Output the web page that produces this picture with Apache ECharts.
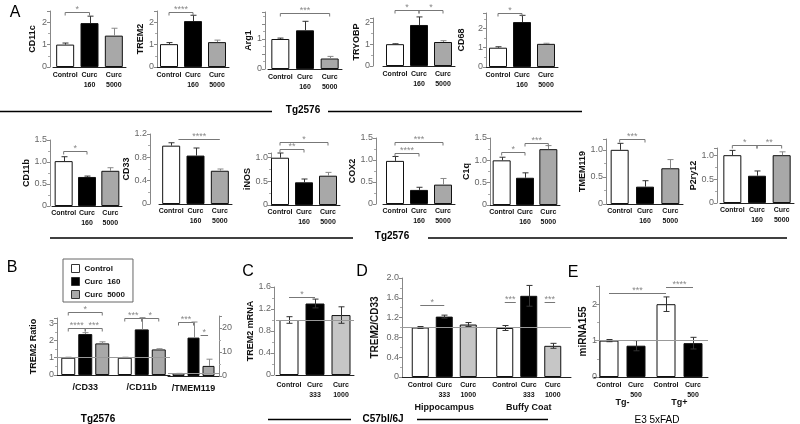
<!DOCTYPE html>
<html>
<head>
<meta charset="utf-8">
<script src="https://cdn.jsdelivr.net/npm/echarts@6/dist/echarts.min.js"></script>
<style>
html, body { margin: 0; background: #fff; }
#chart { width: 800px; height: 424px; }
</style>
</head>
<body>
<div id="chart"></div>
<script>
// ---- categories ----
var groups160 = ['Control', 'Curc\n160', 'Curc\n5000'];
var groups333 = ['Control', 'Curc\n333', 'Curc\n1000'];
var groups500 = ['Control', 'Curc\n500'];
var legendNames = ['Control', 'Curc  160', 'Curc  5000'];
var ratioCats = ['/CD33', '/CD11b'];
var ratioCats2 = ['/TMEM119'];
var tissueCats = ['Hippocampus', 'Buffy Coat'];
var tgCats = ['Tg-', 'Tg+'];

// ---- A, first row (mean, sem, significance [from, to, y, stars]) ----
var cd11c = [1.00, 1.96, 1.40], cd11cErr = [0.07, 0.31, 0.33], cd11cSig = [[0, 1, 2.45, '*']];
var trem2 = [1.02, 2.05, 1.11], trem2Err = [0.07, 0.26, 0.09], trem2Sig = [[0, 1, 2.45, '****']];
var arg1 = [1.00, 1.29, 0.35], arg1Err = [0.03, 0.30, 0.07], arg1Sig = [[0, 2, 1.88, '***']];
var tryobp = [1.00, 1.88, 1.10], tryobpErr = [0.02, 0.37, 0.06], tryobpSig = [[0, 1, 2.55, '*'], [1, 2, 2.55, '*']];
var cd68 = [1.00, 2.33, 1.20], cd68Err = [0.05, 0.35, 0.03], cd68Sig = [[0, 1, 2.8, '*']];

// ---- A, second row ----
var cd11b = [1.02, 0.66, 0.80], cd11bErr = [0.10, 0.02, 0.07], cd11bSig = [[0, 1, 1.24, '*']];
var cd33 = [1.00, 0.83, 0.57], cd33Err = [0.05, 0.13, 0.03], cd33Sig = [[0.3, 2, 1.11, '****', 'line']];
var inos = [1.00, 0.48, 0.62], inosErr = [0.10, 0.07, 0.07], inosSig = [[0, 2, 1.33, '*'], [0, 1, 1.19, '**']];
var cox2 = [0.98, 0.32, 0.44], cox2Err = [0.10, 0.06, 0.14], cox2Sig = [[0, 2, 1.42, '***'], [0, 1, 1.17, '****']];
var c1q = [1.00, 0.61, 1.25], c1qErr = [0.07, 0.11, 0.08], c1qSig = [[0, 1, 1.18, '*'], [1, 2, 1.39, '***']];
var tmem119 = [1.00, 0.32, 0.66], tmem119Err = [0.12, 0.11, 0.16], tmem119Sig = [[0, 1, 1.2, '***']];
var p2ry12 = [1.00, 0.57, 1.00], p2ry12Err = [0.10, 0.10, 0.07], p2ry12Sig = [[0, 1, 1.22, '*'], [1, 2, 1.22, '**']];

// ---- B, TREM2 ratios (one array per treatment, over ratioCats) ----
var ratioControl = [1.00, 1.00], ratioCurc160 = [2.37, 2.64], ratioCurc5000 = [1.83, 1.48];
var ratioControlErr = [0.03, 0.03], ratioCurc160Err = [0.08, 0.68], ratioCurc5000Err = [0.09, 0.04];
var ratioSig = [[0, 2, 3.62, '*'], [0, 1, 2.7, '****'], [1, 2, 2.7, '***'], [3, 4, 3.3, '***'], [4, 5, 3.3, '*']];
var tmemRatio = [[1.0], [16.0], [4.2]], tmemRatioErr = [[0.1], [6.5], [2.8]];
var tmemRatioSig = [[0, 1, 22.6, '***'], [1.47, 1.97, 17, '*', 'line']];

// ---- C, TREM2 mRNA ----
var mrna = [1.00, 1.30, 1.09], mrnaErr = [0.06, 0.08, 0.15], mrnaSig = [[0, 1, 1.42, '*', 'line']];

// ---- D, TREM2/CD33 (one array per treatment, over tissueCats) ----
var dControl = [1.00, 0.99], dCurc333 = [1.22, 1.64], dCurc1000 = [1.06, 0.63];
var dControlErr = [0.02, 0.05], dCurc333Err = [0.03, 0.21], dCurc1000Err = [0.04, 0.05];
var dSig = [[0, 1, 1.46, '*', 'line'], [3, 3.46, 1.51, '***', 'line'], [4.66, 5.1, 1.51, '***', 'line']];

// ---- E, miRNA155 (one array per treatment, over tgCats) ----
var eControl = [1.00, 2.00], eCurc500 = [0.86, 0.93];
var eControlErr = [0.03, 0.20], eCurc500Err = [0.14, 0.16];
var eSig = [[0, 2, 2.31, '***', 'line'], [2, 3, 2.46, '****', 'line']];

var FONT = 'Liberation Sans';
var fillsA = ['#ffffff', '#000000', '#a8a8a8'];
var fillsC = ['#ffffff', '#000000', '#c6c6c6'];

var chart = echarts.init(document.getElementById('chart'));
var grid = [], xAxis = [], yAxis = [], series = [];

function tickFormatter(ticks, dec) {
    return function (v) {
        for (var i = 0; i < ticks.length; i++) {
            if (Math.abs(ticks[i] - v) < 1e-6) return Math.abs(v) < 1e-9 ? '0' : v.toFixed(dec);
        }
        return '';
    };
}

// x pixel of bar b (can be fractional) inside a grid
function barX(cs, lay, b) {
    var band = cs.width / lay.nCat;
    if (lay.n === 1) return cs.x + band * (b + 0.5);
    var g = Math.floor(b / lay.n + 1e-9);
    var k = b - g * lay.n;
    var total = lay.n * lay.bw + (lay.n - 1) * lay.gap;
    return cs.x + band * (g + 0.5) - total / 2 + lay.bw / 2 + k * (lay.bw + lay.gap);
}

function addAxes(p) {
    var gi = grid.length;
    grid.push({ left: p.box[0], top: p.box[1], width: p.box[2], height: p.box[3] });
    xAxis.push({
        gridIndex: gi, type: 'category', data: p.cats,
        axisTick: { show: false },
        axisLine: { lineStyle: { color: '#222', width: 1 } },
        axisLabel: {
            show: p.xLabels !== false, interval: 0, margin: p.lm,
            fontFamily: FONT, fontSize: p.xfs || 7, fontWeight: 'bold', color: '#111', lineHeight: 10
        }
    });
    yAxis.push({
        gridIndex: gi, type: 'value', min: 0, max: p.max, interval: p.step,
        offset: p.off || 0, position: p.right ? 'right' : 'left',
        name: p.title || '', nameLocation: 'middle', nameGap: p.gap,
        nameTextStyle: { fontFamily: FONT, fontSize: p.tfs || 9, fontWeight: 'bold', color: '#111' },
        axisLine: { show: true, lineStyle: { color: '#888' } },
        axisTick: { show: true, length: 3, lineStyle: { color: '#888' } },
        minorTick: { show: true, splitNumber: 2, length: 2, lineStyle: { color: '#aaa' } },
        splitLine: { show: false },
        axisLabel: {
            margin: p.ym || 3, fontFamily: FONT, fontSize: 9, color: '#666',
            formatter: tickFormatter(p.ticks, p.dec || 0)
        }
    });
    return gi;
}

function errorSeries(gi, lay, means, errs, colors, twoSided) {
    return {
        type: 'custom', xAxisIndex: gi, yAxisIndex: gi, clip: false, silent: true, z: 4,
        data: means.map(function (m) { return [0, m]; }),
        renderItem: function (params, api) {
            var i = params.dataIndex;
            var x = Math.round(barX(params.coordSys, lay, i)) + 0.5;
            var top = api.coord([0, means[i] + errs[i]])[1];
            var bot = api.coord([0, twoSided ? means[i] - errs[i] : means[i]])[1];
            var st = { stroke: colors[i], lineWidth: 1 };
            var kids = [
                { type: 'line', shape: { x1: x, y1: top, x2: x, y2: bot }, style: st },
                { type: 'line', shape: { x1: x - 3, y1: top, x2: x + 3, y2: top }, style: st }
            ];
            if (twoSided) kids.push({ type: 'line', shape: { x1: x - 3, y1: bot, x2: x + 3, y2: bot }, style: st });
            return { type: 'group', children: kids };
        }
    };
}

function sigSeries(gi, lay, sig) {
    return {
        type: 'custom', xAxisIndex: gi, yAxisIndex: gi, clip: false, silent: true, z: 4,
        data: sig.map(function (s) { return [0, s[2]]; }),
        renderItem: function (params, api) {
            var s = sig[params.dataIndex];
            var x1 = barX(params.coordSys, lay, s[0]);
            var x2 = barX(params.coordSys, lay, s[1]);
            var y = Math.round(api.coord([0, s[2]])[1]) + 0.5;
            var st = { stroke: '#777', lineWidth: 1 };
            var kids = [{ type: 'line', shape: { x1: x1, y1: y, x2: x2, y2: y }, style: st }];
            if (s[4] !== 'line') {
                kids.push({ type: 'line', shape: { x1: x1, y1: y, x2: x1, y2: y + 3 }, style: st });
                kids.push({ type: 'line', shape: { x1: x2, y1: y, x2: x2, y2: y + 3 }, style: st });
            }
            kids.push({
                type: 'text', x: (x1 + x2) / 2, y: y + 2,
                style: { text: s[3], fill: '#888', font: '9px ' + FONT, textAlign: 'center', textVerticalAlign: 'bottom' }
            });
            return { type: 'group', children: kids };
        }
    };
}

function refLine() {
    return { silent: true, symbol: 'none', label: { show: false },
        lineStyle: { color: '#999', width: 1, type: 'solid' }, data: [{ yAxis: 1 }] };
}

// one bar per category
function simplePanel(p) {
    var gi = addAxes(p);
    var lay = { nCat: p.cats.length, n: 1 };
    var bar = {
        type: 'bar', name: p.title, xAxisIndex: gi, yAxisIndex: gi, barWidth: p.bw || 18, silent: true, z: 2,
        itemStyle: { borderColor: '#111', borderWidth: 1 },
        data: p.vals.map(function (v, i) { return { value: v, itemStyle: { color: p.fills[i] } }; })
    };
    if (p.ref) bar.markLine = refLine();
    series.push(bar);
    var ec = p.fills.map(function (f) { return p.twoSided ? '#333' : (f === '#a8a8a8' ? '#888' : '#333'); });
    series.push(errorSeries(gi, lay, p.vals, p.err, ec, !!p.twoSided));
    series.push(sigSeries(gi, lay, p.sig));
}

// several treatments per category
function groupedPanel(p) {
    var gi = addAxes(p);
    var n = p.sers.length;
    var lay = { nCat: p.cats.length, n: n, bw: p.bw, gap: p.gapPx };
    var flatM = [], flatE = [], flatC = [];
    p.cats.forEach(function (c, g) {
        for (var k = 0; k < n; k++) {
            flatM.push(p.sers[k][g]);
            flatE.push(p.errs[k][g]);
            flatC.push(p.errColor);
        }
    });
    for (var k = 0; k < n; k++) {
        var s = {
            type: 'bar', name: p.names[k], xAxisIndex: gi, yAxisIndex: gi, silent: true, z: 2,
            barWidth: p.bw, barGap: (p.gapPx / p.bw * 100) + '%',
            itemStyle: { color: p.fills[k], borderColor: '#111', borderWidth: 1 },
            data: p.sers[k].slice()
        };
        if (p.barLabels) {
            s.label = {
                show: true, position: 'bottom', distance: 3, formatter: p.barLabels[k],
                fontFamily: FONT, fontSize: 7, fontWeight: 'bold', color: '#111', lineHeight: 10
            };
        }
        if (k === 0 && p.ref) s.markLine = refLine();
        series.push(s);
    }
    series.push(errorSeries(gi, lay, flatM, flatE, flatC, !!p.twoSided));
    series.push(sigSeries(gi, lay, p.sig));
}

var ticksInt = [0, 1, 2];
var ticksHalf = [0, 0.5, 1];
var ticksHalf15 = [0, 0.5, 1, 1.5];

// ---- panel A ----
[
    { title: 'CD11c', vals: cd11c, err: cd11cErr, sig: cd11cSig, ticks: ticksInt, max: 2.5, step: 1, box: [53, 11, 73, 56], off: 3, gap: 13, lm: 3 },
    { title: 'TREM2', vals: trem2, err: trem2Err, sig: trem2Sig, ticks: ticksInt, max: 2.5, step: 1, box: [157, 11, 72, 56], off: 0, gap: 8, lm: 3 },
    { title: 'Arg1', vals: arg1, err: arg1Err, sig: arg1Sig, ticks: [0, 1], max: 1.9, step: 0.5, box: [268, 12, 74, 57], off: 3, gap: 12, lm: 3 },
    { title: 'TRYOBP', vals: tryobp, err: tryobpErr, sig: tryobpSig, ticks: ticksInt, max: 2.2, step: 1, box: [383, 18, 72, 48], off: 10, gap: 9, lm: 3 },
    { title: 'CD68', vals: cd68, err: cd68Err, sig: cd68Sig, ticks: ticksInt, max: 2.8, step: 1, box: [486, 13, 72, 54], off: 0, gap: 20, lm: 3 },
    { title: 'CD11b', vals: cd11b, err: cd11bErr, sig: cd11bSig, ticks: ticksHalf15, dec: 1, max: 1.5, step: 0.5, box: [52, 140, 70, 66], off: 2, gap: 13, lm: 2 },
    { title: 'CD33', vals: cd33, err: cd33Err, sig: cd33Sig, ticks: [0, 0.4, 0.8, 1.2], dec: 1, max: 1.2, step: 0.4, box: [159, 134, 73, 70], off: 9, gap: 10, lm: 2 },
    { title: 'iNOS', vals: inos, err: inosErr, sig: inosSig, ticks: ticksHalf, dec: 1, max: 1.1, step: 0.5, box: [268, 153, 72, 52], off: -3, gap: 8, lm: 2 },
    { title: 'COX2', vals: cox2, err: cox2Err, sig: cox2Sig, ticks: ticksHalf15, dec: 1, max: 1.5, step: 0.5, box: [383, 138, 72, 66], off: 7, gap: 16, lm: 2 },
    { title: 'C1q', vals: c1q, err: c1qErr, sig: c1qSig, ticks: ticksHalf15, dec: 1, max: 1.5, step: 0.5, box: [490, 138, 70, 67], off: 0, gap: 18, lm: 2 },
    { title: 'TMEM119', vals: tmem119, err: tmem119Err, sig: tmem119Sig, ticks: ticksHalf, dec: 1, max: 1.2, step: 0.5, box: [607, 139, 76, 65], off: 1, gap: 10, lm: 2 },
    { title: 'P2ry12', vals: p2ry12, err: p2ry12Err, sig: p2ry12Sig, ticks: ticksHalf, dec: 1, max: 1.15, step: 0.5, box: [720, 148, 74, 55], off: 3, gap: 19, lm: 2 }
].forEach(function (p) {
    p.cats = groups160;
    p.fills = fillsA;
    simplePanel(p);
});

// ---- panel B ----
groupedPanel({
    title: 'TREM2 Ratio', tfs: 9, cats: ratioCats, names: legendNames, fills: fillsA, errColor: '#888',
    sers: [ratioControl, ratioCurc160, ratioCurc5000], errs: [ratioControlErr, ratioCurc160Err, ratioCurc5000Err],
    sig: ratioSig, ticks: [0, 1, 2, 3], max: 3.3, step: 1, box: [57, 318, 113, 57], off: 0, gap: 19,
    lm: 8, xfs: 9, bw: 14, gapPx: 3, ref: true
});
groupedPanel({
    cats: ratioCats2, names: legendNames, fills: fillsA, errColor: '#888',
    sers: tmemRatio, errs: tmemRatioErr, sig: tmemRatioSig,
    ticks: [0, 10, 20], max: 25, step: 10, box: [168, 316, 51, 60], right: true, off: 0,
    lm: 8, xfs: 9, bw: 12, gapPx: 3, ref: true
});

// ---- panel C ----
simplePanel({
    title: 'TREM2 mRNA', tfs: 9, cats: groups333, fills: fillsC, vals: mrna, err: mrnaErr, sig: mrnaSig,
    ticks: [0, 0.4, 0.8, 1.2, 1.6], dec: 1, max: 1.6, step: 0.4, box: [276, 287, 78, 88], off: 2, gap: 17,
    lm: 5, bw: 19, twoSided: true, ref: true
});

// ---- panel D ----
groupedPanel({
    title: 'TREM2/CD33', tfs: 10, cats: tissueCats, names: ['D Control', 'D Curc 333', 'D Curc 1000'], fills: fillsC,
    barLabels: groups333, errColor: '#333', twoSided: true,
    sers: [dControl, dCurc333, dCurc1000], errs: [dControlErr, dCurc333Err, dCurc1000Err], sig: dSig,
    ticks: [0, 0.4, 0.8, 1.2, 1.6, 2.0], dec: 1, max: 2.0, step: 0.4, box: [402, 278, 169, 99], off: 0, gap: 22,
    lm: 26, xfs: 9, bw: 17, gapPx: 7, ref: true
});

// ---- panel E ----
groupedPanel({
    title: 'miRNA155', tfs: 10, cats: tgCats, names: ['E Control', 'E Curc 500'], fills: ['#ffffff', '#000000'],
    barLabels: groups500, errColor: '#333', twoSided: true,
    sers: [eControl, eCurc500], errs: [eControlErr, eCurc500Err], sig: eSig,
    ticks: [0, 1, 2], max: 2.5, step: 1, box: [594, 286, 114, 91], off: -5, gap: 8, ym: 2,
    lm: 21, xfs: 9, bw: 19, gapPx: 8, ref: true
});

function txt(t, x, y, size, weight, align) {
    return {
        type: 'text', x: x, y: y, silent: true,
        style: { text: t, fill: '#000', font: (weight || 'normal') + ' ' + size + 'px ' + FONT,
            textAlign: align || 'center', textVerticalAlign: 'middle' }
    };
}
function hline(x1, x2, y) {
    return { type: 'line', silent: true, shape: { x1: x1, y1: y, x2: x2, y2: y }, style: { stroke: '#000', lineWidth: 1.5 } };
}

chart.setOption({
    animation: false,
    backgroundColor: '#fff',
    grid: grid, xAxis: xAxis, yAxis: yAxis, series: series,
    legend: {
        data: legendNames, orient: 'vertical', left: 63, top: 259, icon: 'rect',
        itemWidth: 8, itemHeight: 8, itemGap: 4, padding: [5, 8, 3, 8],
        borderColor: '#666', borderWidth: 1, selectedMode: false,
        itemStyle: { borderColor: '#333', borderWidth: 1 },
        textStyle: { fontFamily: FONT, fontSize: 8, fontWeight: 'bold', color: '#111' }
    },
    graphic: [
        txt('A', 15, 13, 16), txt('B', 12, 268, 16), txt('C', 248, 272, 16),
        txt('D', 362, 272, 16), txt('E', 573, 273, 16),
        hline(0, 272, 111.5), txt('Tg2576', 303, 110, 10, 'bold'), hline(328, 582, 111.5),
        hline(50, 353, 238), txt('Tg2576', 392, 236, 10, 'bold'), hline(428, 787, 238),
        txt('Tg2576', 98, 419, 10, 'bold'),
        hline(268, 351, 419.5), txt('C57bl/6J', 383, 419, 10, 'bold'), hline(417, 548, 419.5),
        txt('E3 5xFAD', 657, 420, 10)
    ]
});
</script>
</body>
</html>
